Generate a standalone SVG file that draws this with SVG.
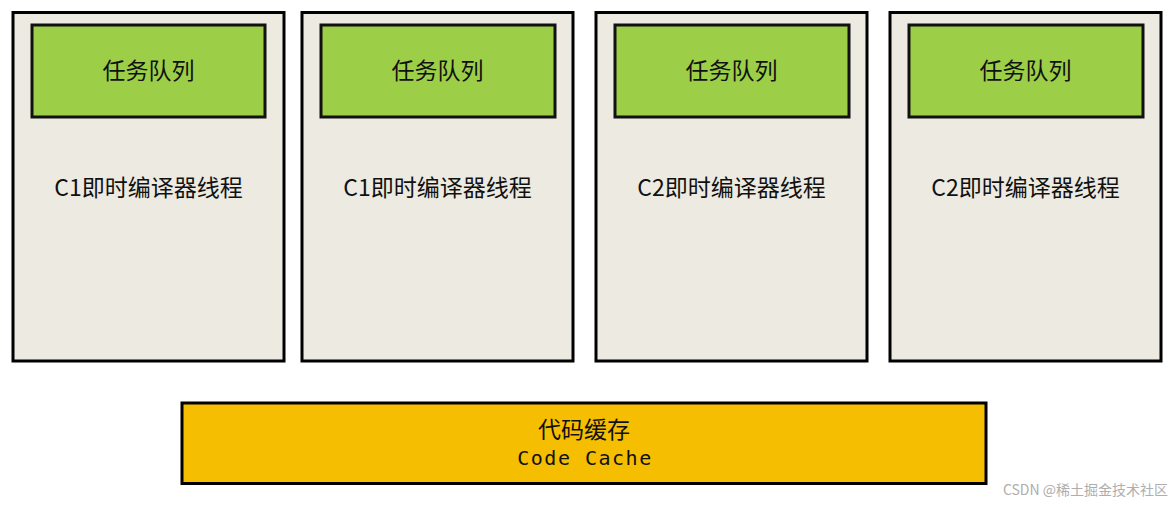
<svg xmlns="http://www.w3.org/2000/svg" width="1176" height="507" viewBox="0 0 1176 507">
<style>
.outer{fill:#ECEAE1;stroke:#000;stroke-width:3}
.queue{fill:#9CCF47;stroke:#111;stroke-width:3}
.cache{fill:#F6BE00;stroke:#000;stroke-width:3}
.cjk{font-family:"Noto Sans CJK SC","Noto Sans",sans-serif;font-size:23px;fill:#111;text-anchor:middle}
.mono{font-family:"DejaVu Sans Mono","Liberation Mono",monospace;font-size:20px;fill:#111;text-anchor:middle;letter-spacing:1.5px}
.wm{font-family:"Noto Sans CJK SC",sans-serif;font-size:14px;fill:#9a9a9a;opacity:0.8;text-anchor:end}
</style>
<rect width="1176" height="507" fill="#fff"/>
<g id="thread1">
<rect class="outer" x="13" y="12.5" width="271" height="348.5"/>
<rect class="queue" x="32" y="25" width="233" height="92"/>
<text class="cjk" x="148.5" y="79">任务队列</text>
<text class="cjk" x="148.5" y="196">C1即时编译器线程</text>
</g>
<g id="thread2">
<rect class="outer" x="302" y="12.5" width="271" height="348.5"/>
<rect class="queue" x="321" y="25" width="234" height="92"/>
<text class="cjk" x="437.5" y="79">任务队列</text>
<text class="cjk" x="437.5" y="196">C1即时编译器线程</text>
</g>
<g id="thread3">
<rect class="outer" x="596" y="12.5" width="271" height="348.5"/>
<rect class="queue" x="615" y="25" width="234" height="92"/>
<text class="cjk" x="731.5" y="79">任务队列</text>
<text class="cjk" x="731.5" y="196">C2即时编译器线程</text>
</g>
<g id="thread4">
<rect class="outer" x="890" y="12.5" width="271" height="348.5"/>
<rect class="queue" x="909" y="25" width="234" height="92"/>
<text class="cjk" x="1025.5" y="79">任务队列</text>
<text class="cjk" x="1025.5" y="196">C2即时编译器线程</text>
</g>
<g id="codecache">
<rect class="cache" x="182" y="403" width="804" height="80.5"/>
<text class="cjk" x="584" y="438">代码缓存</text>
<text class="mono" x="585" y="465">Code Cache</text>
</g>
<g id="connectors"></g>
<text class="wm" x="1168" y="495">CSDN @稀土掘金技术社区</text>
</svg>
